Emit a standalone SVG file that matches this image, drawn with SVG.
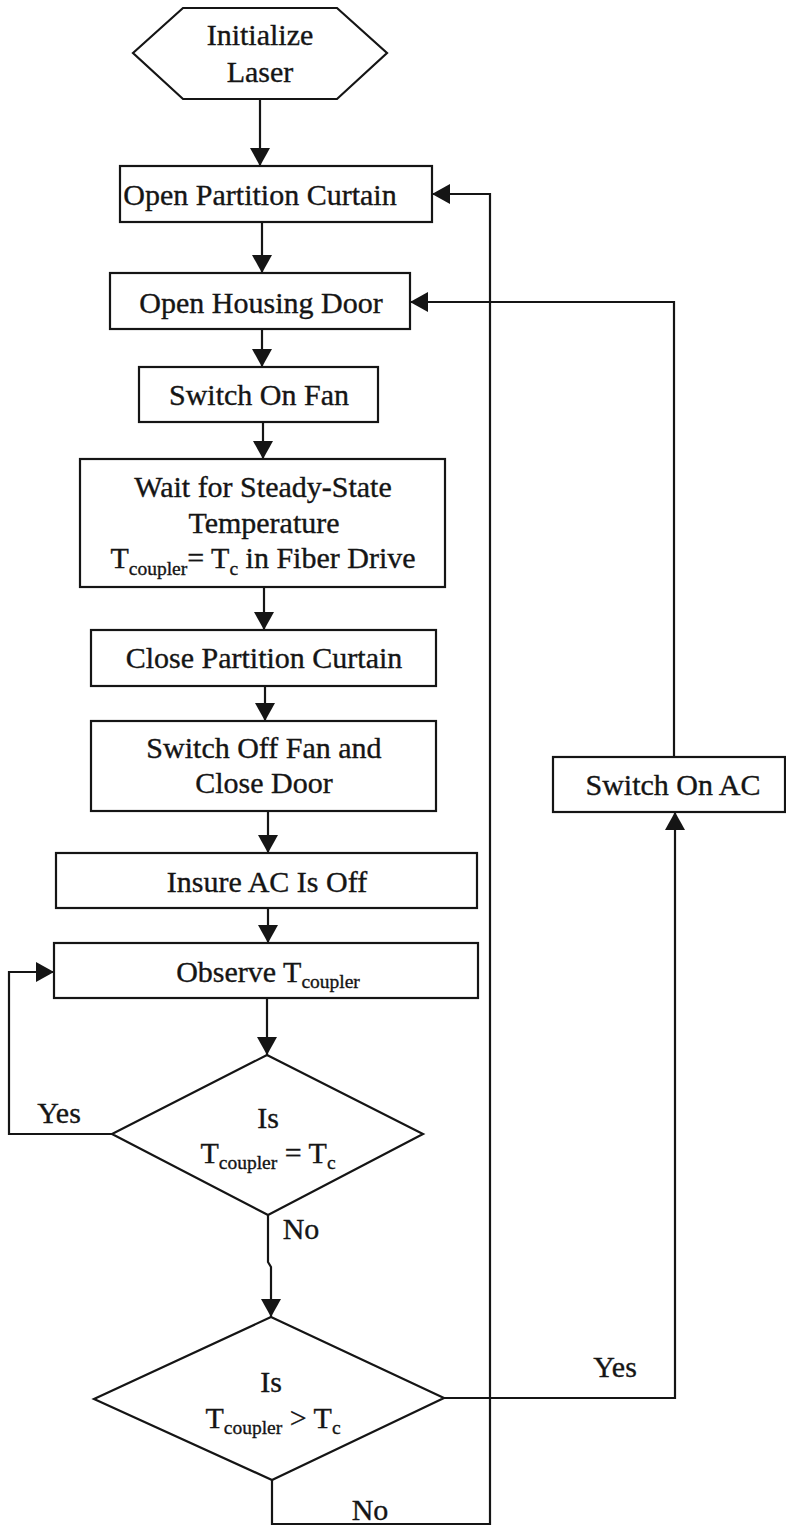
<svg xmlns="http://www.w3.org/2000/svg" width="786" height="1526" viewBox="0 0 786 1526">
  <style>
    .shape { fill: #ffffff; stroke: #151515; stroke-width: 2.2; }
    .conn { fill: none; stroke: #151515; stroke-width: 2.2; }
    text { font-family: "Liberation Serif", "Times New Roman", serif; font-size: 30px; fill: #151515; stroke: #151515; stroke-width: 0.35; text-anchor: middle; }
    .sub { font-size: 19.5px; }
  </style>
  <defs>
    <marker id="arrow" viewBox="0 0 18 20" refX="18" refY="10" markerWidth="18" markerHeight="20" orient="auto" markerUnits="userSpaceOnUse">
      <path d="M0,0 L18,10 L0,20 z" fill="#151515"/>
    </marker>
  </defs>
  <rect width="786" height="1526" fill="#ffffff"/>

  <!-- connectors -->
  <g id="connectors">
    <path class="conn" d="M260,99 V166" marker-end="url(#arrow)"/>
    <path class="conn" d="M262,222 V273" marker-end="url(#arrow)"/>
    <path class="conn" d="M262,329 V367" marker-end="url(#arrow)"/>
    <path class="conn" d="M263,422 V459" marker-end="url(#arrow)"/>
    <path class="conn" d="M264,587 V630" marker-end="url(#arrow)"/>
    <path class="conn" d="M265,686 V721" marker-end="url(#arrow)"/>
    <path class="conn" d="M268,811 V853" marker-end="url(#arrow)"/>
    <path class="conn" d="M268,908 V943" marker-end="url(#arrow)"/>
    <path class="conn" d="M267,998 V1055" marker-end="url(#arrow)"/>
    <!-- Yes: back to observing -->
    <path class="conn" d="M112,1134 H9 V972 H54" marker-end="url(#arrow)"/>
    <!-- No: on to second test -->
    <path class="conn" d="M268,1215 V1262 L271,1267 V1317" marker-end="url(#arrow)"/>
    <!-- No: loop back to the curtain -->
    <path class="conn" d="M272,1480 V1524 H490 V194 H432" marker-end="url(#arrow)"/>
    <!-- Yes: switch on AC -->
    <path class="conn" d="M444,1398 H675 V812" marker-end="url(#arrow)"/>
    <path class="conn" d="M674,757 V302 H410" marker-end="url(#arrow)"/>
    <text x="59" y="1123">Yes</text>
    <text x="301" y="1239">No</text>
    <text x="615" y="1377">Yes</text>
    <text x="370" y="1520">No</text>
  </g>

  <g id="init">
    <polygon class="shape" points="133,53 183,8 337,8 387,53 337,99 183,99"/>
    <text x="260" y="45">Initialize</text>
    <text x="260" y="82">Laser</text>
  </g>

  <g id="open-curtain">
    <rect class="shape" x="120" y="166" width="312" height="56"/>
    <text x="260" y="205">Open Partition Curtain</text>
  </g>

  <g id="open-door">
    <rect class="shape" x="110" y="273" width="300" height="56"/>
    <text x="261" y="313">Open Housing Door</text>
  </g>

  <g id="fan-on">
    <rect class="shape" x="139" y="367" width="239" height="55"/>
    <text x="259" y="405">Switch On Fan</text>
  </g>

  <g id="wait-steady">
    <rect class="shape" x="80" y="459" width="365" height="128"/>
    <text x="263" y="497">Wait for Steady-State</text>
    <text x="264" y="533">Temperature</text>
    <text x="263" y="568">T<tspan class="sub" dy="7">coupler</tspan><tspan dy="-7">= T</tspan><tspan class="sub" dy="7">c</tspan><tspan dy="-7"> in Fiber Drive</tspan></text>
  </g>

  <g id="close-curtain">
    <rect class="shape" x="91" y="630" width="345" height="56"/>
    <text x="264" y="668">Close Partition Curtain</text>
  </g>

  <g id="fan-off">
    <rect class="shape" x="91" y="721" width="345" height="90"/>
    <text x="264" y="758">Switch Off Fan and</text>
    <text x="264" y="793">Close Door</text>
  </g>

  <g id="ac-off">
    <rect class="shape" x="56" y="853" width="421" height="55"/>
    <text x="267" y="892">Insure AC Is Off</text>
  </g>

  <g id="observe">
    <rect class="shape" x="54" y="943" width="424" height="55"/>
    <text x="268" y="982">Observe T<tspan class="sub" dy="6">coupler</tspan></text>
  </g>

  <g id="test-equal">
    <polygon class="shape" points="267,1055 423,1134 268,1215 112,1134"/>
    <text x="268" y="1128">Is</text>
    <text x="268" y="1163">T<tspan class="sub" dy="6">coupler</tspan><tspan dy="-6"> = T</tspan><tspan class="sub" dy="6">c</tspan></text>
  </g>

  <g id="test-greater">
    <polygon class="shape" points="271,1317 444,1398 272,1480 94,1399"/>
    <text x="271" y="1392">Is</text>
    <text x="273" y="1428">T<tspan class="sub" dy="6">coupler</tspan><tspan dy="-6"> &gt; T</tspan><tspan class="sub" dy="6">c</tspan></text>
  </g>

  <g id="ac-on">
    <rect class="shape" x="553" y="757" width="232" height="55"/>
    <text x="673" y="795">Switch On AC</text>
  </g>
</svg>
